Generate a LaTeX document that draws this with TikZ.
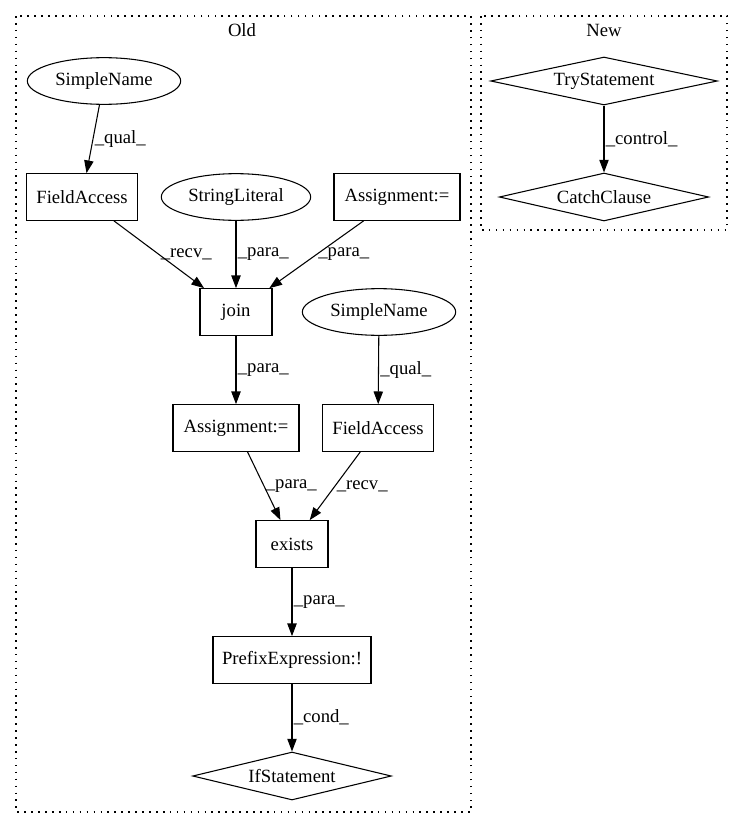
\documentclass[tikz,border=0pt]{standalone}
\usepackage{fontspec}
\setmainfont{Liberation Serif}
\usetikzlibrary{shapes.geometric,arrows.meta}

\tikzset{
 box/.style={draw, line width=0.8pt, rectangle, minimum height=35pt, inner sep=2pt},
 oval/.style={draw, line width=0.8pt, ellipse, minimum height=35pt, inner sep=0pt},
 dia/.style={draw, line width=0.8pt, diamond, aspect=4, minimum height=36pt, inner sep=0pt},
 flow/.style={-{Triangle[length=9.5pt,width=7pt]}, line width=0.8pt},
 lbl/.style={right, inner sep=1pt},
 cluster/.style={draw, line width=0.8pt, dash pattern=on 1.2pt off 4pt},
}

\begin{document}
\begin{tikzpicture}[x=0.75pt, y=-0.75pt, font=\fontsize{14}{17}\selectfont]
 \useasboundingbox (0,0) rectangle (743,828);

 \draw[cluster] (16,16) rectangle (471,812);
 \node (oldlbl) at (242,30) {Old};
 \draw[cluster] (481,16) rectangle (727,230);
 \node (newlbl) at (604,30) {New};

 \node[oval, minimum width=115pt] (sn1) at (104,81) {SimpleName};
 \node[box, minimum width=83pt] (fa1) at (82,197) {FieldAccess};
 \node[oval, minimum width=112pt] (sl) at (236,197) {StringLiteral};
 \node[box, minimum width=94.5pt] (asg1) at (397,197) {Assignment:=};
 \node[box, minimum width=54pt] (join) at (236,312) {join};
 \node[oval, minimum width=115pt] (sn2) at (379,312) {SimpleName};
 \node[box, minimum width=94.5pt] (asg2) at (236,428) {Assignment:=};
 \node[box, minimum width=83pt] (fa2) at (378,428) {FieldAccess};
 \node[box, minimum width=54pt] (exists) at (292,544) {exists};
 \node[box, minimum width=118.5pt] (prefix) at (292,660) {PrefixExpression:!};
 \node[dia, minimum width=149pt] (ifst) at (292,776) {IfStatement};

 \node[dia, minimum width=170pt] (try) at (604,81) {TryStatement};
 \node[dia, minimum width=157pt] (catch) at (604,197) {CatchClause};

 \draw[flow] (sn1) -- node[lbl] {\_qual\_} (fa1);
 \draw[flow] (fa1) -- node[lbl] {\_recv\_} (join);
 \draw[flow] (sl) -- node[lbl] {\_para\_} (join);
 \draw[flow] (asg1) -- node[lbl] {\_para\_} (join);
 \draw[flow] (join) -- node[lbl] {\_para\_} (asg2);
 \draw[flow] (sn2) -- node[lbl] {\_qual\_} (fa2);
 \draw[flow] (asg2) -- node[lbl] {\_para\_} (exists);
 \draw[flow] (fa2) -- node[lbl] {\_recv\_} (exists);
 \draw[flow] (exists) -- node[lbl] {\_para\_} (prefix);
 \draw[flow] (prefix) -- node[lbl] {\_cond\_} (ifst);
 \draw[flow] (try) -- node[lbl] {\_control\_} (catch);
\end{tikzpicture}
\end{document}
